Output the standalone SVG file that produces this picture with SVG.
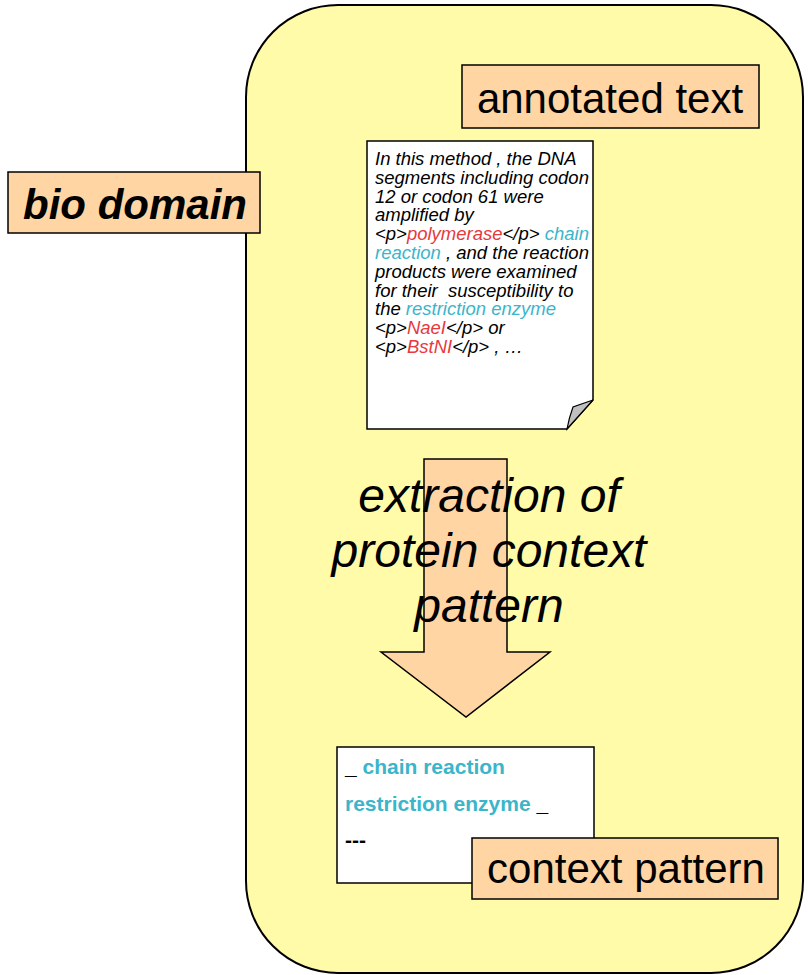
<svg xmlns="http://www.w3.org/2000/svg" width="808" height="975" viewBox="0 0 808 975">
  <style>
    .sans { font-family: "Liberation Sans", Arial, sans-serif; }
    .label { fill: #FFD5A3; stroke: #000; stroke-width: 1.5; }
    .big { font-size: 42px; fill: #000; }
    .doc { font-size: 18.5px; font-style: italic; fill: #000; }
    .red { fill: #E8393C; }
    .cyan { fill: #3BB5CA; }
    .pat { font-size: 21px; font-weight: bold; }
  </style>
  <rect x="0" y="0" width="808" height="975" fill="#FFFFFF"/>

  <!-- domain container -->
  <g id="domain">
    <rect x="246" y="5" width="557" height="968" rx="92" ry="92" fill="#FFFBA8" stroke="#000" stroke-width="2"/>
  </g>

  <!-- domain label -->
  <g id="bio-domain">
    <rect class="label" x="8" y="172" width="252" height="61"/>
    <text class="sans" x="135" y="219" text-anchor="middle" font-size="42" font-weight="bold" font-style="italic">bio domain</text>
  </g>

  <!-- source document label -->
  <g id="annotated-text">
    <rect class="label" x="462" y="65" width="297" height="63"/>
    <text class="sans big" x="610" y="113" text-anchor="middle">annotated text</text>
  </g>

  <!-- source document with folded corner -->
  <g id="document">
    <path d="M367,141 H593 V400 L567,429 H367 Z" fill="#FFFFFF" stroke="#000" stroke-width="1.5"/>
    <path d="M593,400 L573,407 Q569,418 567,429 Z" fill="#C0C0C0" stroke="#000" stroke-width="1.2"/>
    <g class="sans doc">
      <text x="375" y="165">In this method , the DNA</text>
      <text x="375" y="184">segments including codon</text>
      <text x="375" y="203">12 or codon 61 were</text>
      <text x="375" y="221">amplified by</text>
      <text x="375" y="240">&lt;p&gt;<tspan class="red">polymerase</tspan>&lt;/p&gt; <tspan class="cyan">chain</tspan></text>
      <text x="375" y="259"><tspan class="cyan">reaction</tspan> , and the reaction</text>
      <text x="375" y="278">products were examined</text>
      <text x="375" y="297" xml:space="preserve">for their  susceptibility to</text>
      <text x="375" y="315">the <tspan class="cyan">restriction enzyme</tspan></text>
      <text x="375" y="334">&lt;p&gt;<tspan class="red">NaeI</tspan>&lt;/p&gt; or</text>
      <text x="375" y="353">&lt;p&gt;<tspan class="red">BstNI</tspan>&lt;/p&gt; , …</text>
    </g>
  </g>

  <!-- extraction step -->
  <g id="connectors">
    <g id="extraction">
      <path d="M424,459 H507 V652 H550 L466,717 L381,652 H424 Z" fill="#FFD5A3" stroke="#000" stroke-width="1.5"/>
      <g class="sans" font-size="48" font-style="italic" text-anchor="middle">
        <text x="489" y="512">extraction of</text>
        <text x="489" y="567">protein context</text>
        <text x="489" y="622">pattern</text>
      </g>
    </g>
  </g>

  <!-- resulting pattern -->
  <g id="pattern">
    <rect x="337" y="747" width="257" height="136" fill="#FFFFFF" stroke="#000" stroke-width="1.5"/>
    <g class="sans pat">
      <text x="345" y="774">_ <tspan class="cyan">chain reaction</tspan></text>
      <text x="345" y="811"><tspan class="cyan">restriction enzyme</tspan> _</text>
      <text x="345" y="847">---</text>
    </g>
  </g>

  <!-- pattern label -->
  <g id="context-pattern">
    <rect class="label" x="472" y="838" width="306" height="61"/>
    <text class="sans big" x="626" y="883" text-anchor="middle">context pattern</text>
  </g>
</svg>
